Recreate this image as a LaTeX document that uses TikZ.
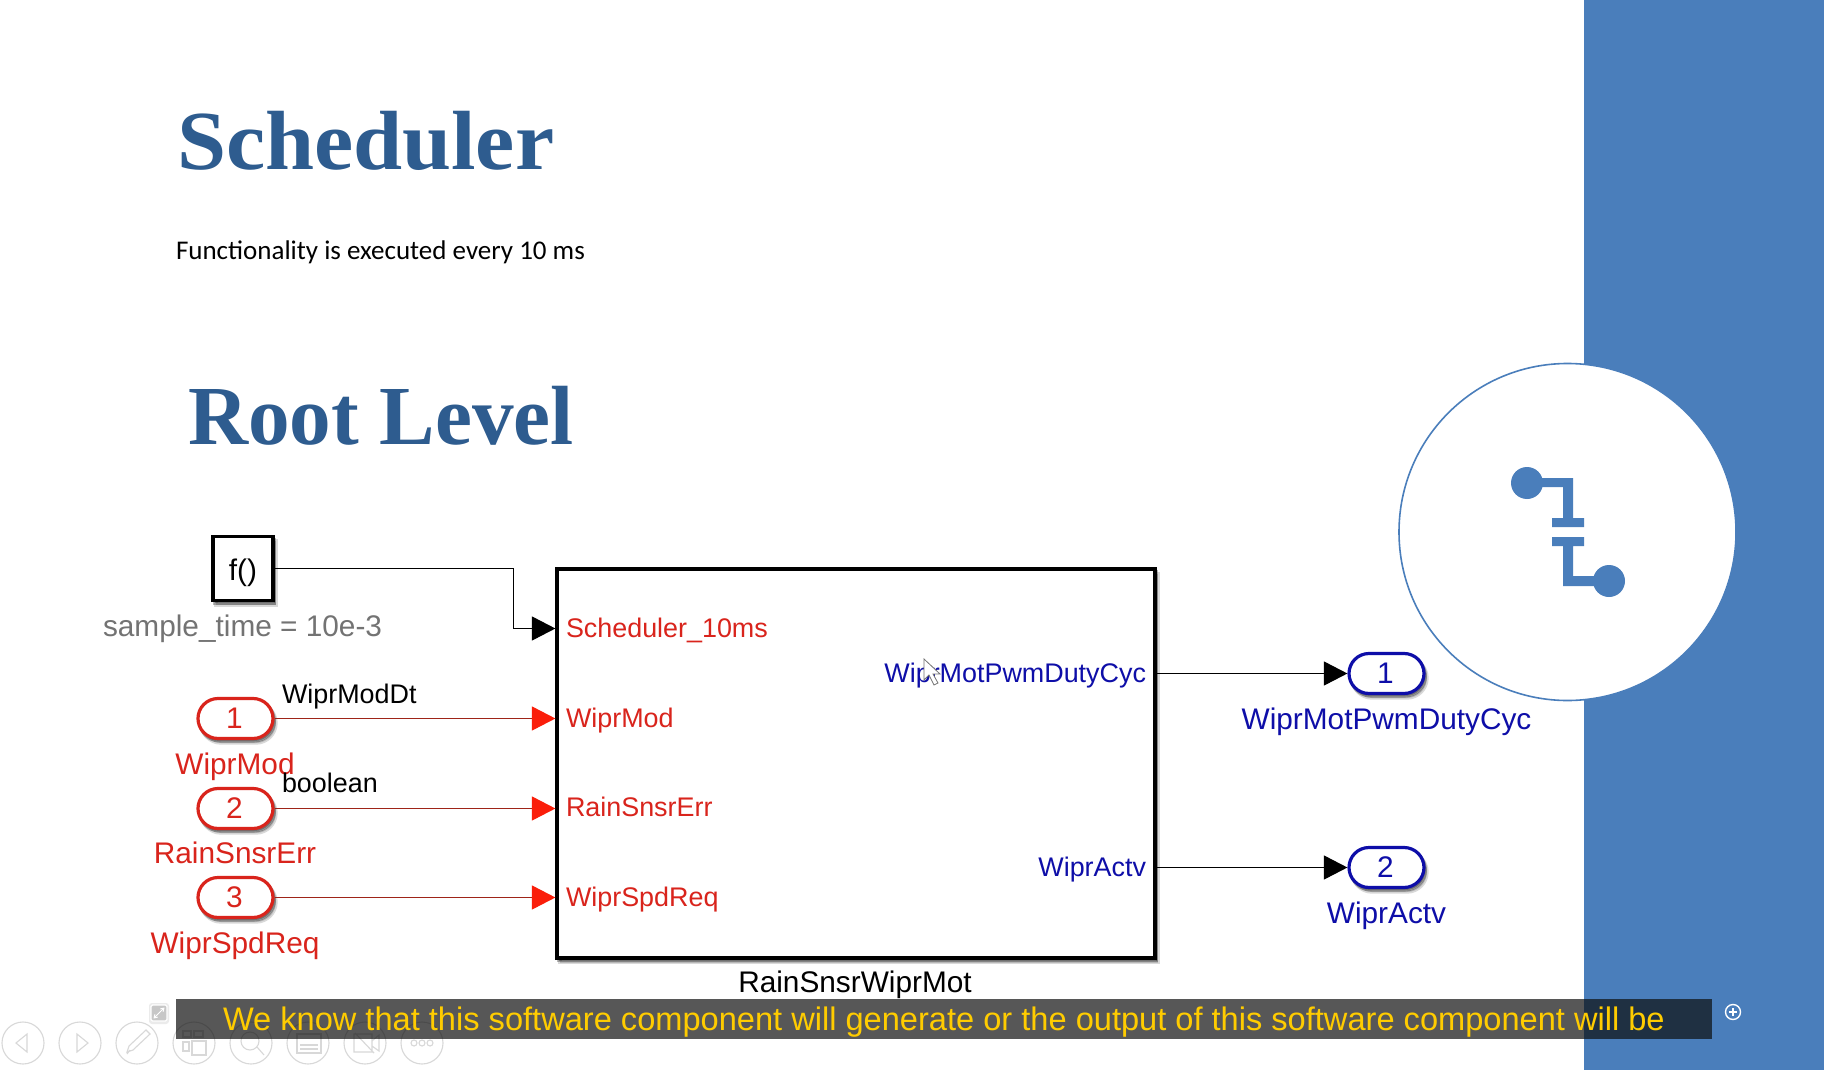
\documentclass[tikz,border=0pt]{standalone}
\usepackage{fontspec}
\setmainfont{Liberation Sans}
\newfontfamily\titlefont{Liberation Serif}
\newfontfamily\bodyfont{Carlito}
\usetikzlibrary{arrows.meta}
\definecolor{sideblue}{HTML}{4A7EBB}
\definecolor{titleblue}{HTML}{2E5C8F}
\definecolor{slred}{HTML}{D9241C}
\definecolor{slline}{HTML}{9E2418}
\definecolor{sltip}{HTML}{FA1E0A}
\definecolor{slblue}{HTML}{0E0EA8}
\definecolor{capyellow}{HTML}{FFCC00}
\definecolor{toolgray}{HTML}{D8D8D8}
\newcommand{\fs}[1]{\fontsize{#1}{#1}\selectfont}
\tikzset{
  x=1pt,y=-1pt,
  txt/.style={inner sep=0pt,outer sep=0pt,anchor=base west,font=\fs{26.9}},
  big/.style={txt,font=\fs{29.8}},
  ctr/.style={big,anchor=base},
  rlab/.style={txt,text=slred},
  blab/.style={txt,text=slblue,anchor=base east},
  shad/.style={preaction={draw=black,fill=black,opacity=.15,transform canvas={shift={(3pt,-4.5pt)}},line width=3.4pt},
               preaction={draw=black,fill=black,opacity=.28,transform canvas={shift={(1.5pt,-2.5pt)}},line width=3pt}},
  pillr/.style={shad,draw=#1,fill=white,line width=3.2pt,rounded corners=20pt,minimum width=75pt,minimum height=40pt,inner sep=0pt,outer sep=1.6pt,font=\fs{29.8},text=#1},
  sq/.style={shad,draw=black,fill=white,line width=3.2pt,minimum width=60pt,minimum height=64pt,inner sep=0pt,outer sep=1.6pt,font=\fs{29.8}},
  conn/.style={line width=1.1pt,draw=black,-{Triangle[length=23.5pt,width=24pt,fill=black]}},
  connr/.style={line width=1.1pt,draw=slline,-{Triangle[length=23.5pt,width=24pt,fill=sltip,color=sltip]}},
  tool/.style={draw=toolgray,line width=1.1pt,fill=none},
  icon/.style={draw=toolgray,line width=1.1pt},
}
\begin{document}
\begin{tikzpicture}
\useasboundingbox (0,0) rectangle (1824,1070);
\fill[white] (0,0) rectangle (1824,1070);
\fill[sideblue] (1584,0) rectangle (1824,1070);
% emblem
\node[circle,draw=sideblue,fill=white,line width=1.6pt,minimum size=337pt,inner sep=0pt] (emblem) at (1567.5,532) {};
\fill[sideblue] (1527,483) circle (16);
\fill[sideblue] (1609,581) circle (16);
\fill[sideblue] (1527,478) -- (1573,478) -- (1573,518) -- (1584,518) -- (1584,527) -- (1552,527) -- (1552,518) -- (1563,518) -- (1563,487) -- (1527,487) -- cycle;
\fill[sideblue] (1552,537) -- (1584,537) -- (1584,546) -- (1573,546) -- (1573,576) -- (1609,576) -- (1609,586) -- (1563,586) -- (1563,546) -- (1552,546) -- cycle;
% titles
\node[txt,font=\titlefont\bfseries\fs{84},text=titleblue] (t1) at (177,170) {\scalebox{1.05}[1]{Scheduler}};
\node[txt,font=\bodyfont\fs{27},text=black] (t2) at (176,259) {Functionality is executed every 10 ms};
\node[txt,font=\titlefont\bfseries\fs{84},text=titleblue] (t3) at (188,444) {\scalebox{.99}[1]{Root Level}};
% blocks
\node[sq] (f) at (243,568.5) {\raisebox{-12pt}[0pt][0pt]{f()}};
\node[big,text=black!55] (st) at (103,636.5) {sample\_time = 10e-3};
\node[shad,draw=black,fill=white,line width=3.2pt,minimum width=598pt,minimum height=389pt,inner sep=0pt,outer sep=1.6pt] (sub) at (856,763.5) {};
\node[pillr=slred] (i1) at (235.5,718.5) {\kern-2pt 1};
\node[pillr=slred] (i2) at (235.5,808.5) {\kern-2pt 2};
\node[pillr=slred] (i3) at (235.5,897.5) {\kern-2pt 3};
\node[pillr=slblue] (o1) at (1386.5,673.5) {\kern-2pt 1};
\node[pillr=slblue] (o2) at (1386.5,867.5) {\kern-2pt 2};
% port labels
\node[rlab] (p0) at (566,637) {Scheduler\_10ms};
\node[rlab] (p1) at (566,727) {WiprMod};
\node[rlab] (p2) at (566,816) {RainSnsrErr};
\node[rlab] (p3) at (566,906) {WiprSpdReq};
\node[blab] (q1) at (1146,682) {WiprMotPwmDutyCyc};
\node[blab] (q2) at (1146,876) {WiprActv};
% block labels
\node[ctr,text=slred] (l1) at (235,774) {WiprMod};
\node[ctr,text=slred] (l2) at (235,863) {RainSnsrErr};
\node[ctr,text=slred] (l3) at (235,953) {WiprSpdReq};
\node[ctr,text=slblue] (l4) at (1386.5,729) {WiprMotPwmDutyCyc};
\node[ctr,text=slblue] (l5) at (1386.5,923) {WiprActv};
\node[ctr,text=black] (l6) at (855,992) {RainSnsrWiprMot};
\node[txt,text=black] (s1) at (282,703) {WiprModDt};
\node[txt,text=black] (s2) at (282,792) {boolean};
% connector ends
\coordinate (a0) at (sub.west |- 0,628.5);
\coordinate (a1) at (sub.west |- i1);
\coordinate (a2) at (sub.west |- i2);
\coordinate (a3) at (sub.west |- i3);
\coordinate (b1) at (sub.east |- o1);
\coordinate (b2) at (sub.east |- o2);
\coordinate (elbow) at (513.5,0 |- f.east);
\draw[conn] (f.east) -- (elbow) |- (a0);
\draw[connr] (i1.east) -- (a1);
\draw[connr] (i2.east) -- (a2);
\draw[connr] (i3.east) -- (a3);
\draw[conn] (b1) -- (o1.west);
\draw[conn] (b2) -- (o2.west);
% cursor
\draw[fill=white,draw=black!55,line width=.8pt] (924,659) -- (924,680) -- (929,675) -- (934,685) -- (938,683) -- (933,674) -- (940,674) -- cycle;
% toolbar
\foreach \cx in {23,80,137,194,251,308,365,422}{\draw[tool] (\cx,1043) circle (21);}
\draw[icon] (27,1034) -- (16,1043) -- (27,1052) -- cycle;
\draw[icon] (77,1034) -- (88,1043) -- (77,1052) -- cycle;
\draw[icon] (127,1052) -- (129,1046) -- (146,1030) -- (150,1034) -- (133,1050) -- cycle (127,1054) -- (130,1050);
\draw[icon] (183,1031) rectangle (191,1037) (194,1031) rectangle (203,1037) (183,1042) rectangle (189,1051) (192,1041) rectangle (206,1055);
\draw[icon] (250,1041) circle (9) (257,1047) -- (264,1055);
\draw[icon] (297,1034) rectangle (321,1053) (300,1045) -- (318,1045) (300,1049) -- (318,1049);
\draw[icon] (354,1034) rectangle (372,1052) (372,1041) -- (379,1035) -- (379,1051) -- (372,1046) (355,1033) -- (374,1053);
\draw[icon] (414,1043) circle (3) (422,1043) circle (3) (430,1043) circle (3);
% expand button
\fill[black!8,rounded corners=3pt] (149,1003) rectangle (169,1024);
\node[draw=white,fill=black!22,rounded corners=1.5pt,line width=1.2pt,minimum size=16pt,inner sep=0pt] (ex) at (159,1013) {};
\draw[white,line width=1pt,{Straight Barb[length=3pt,width=4pt]}-{Straight Barb[length=3pt,width=4pt]}] (153.5,1018.5) -- (164.5,1007.5);
% caption
\fill[black!95,opacity=.69] (176,999) rectangle (1712,1039);
\node[txt,font=\fs{32.6},text=capyellow] (cap) at (223,1030) {We know that this software component will generate or the output of this software component will be};
\node[circle,draw=white,line width=1.4pt,minimum size=15pt,inner sep=0pt] (plus) at (1733,1012) {};
\draw[white,line width=1.1pt] (1729,1012) -- (1737,1012) (1733,1008) -- (1733,1016);
\end{tikzpicture}
\end{document}
